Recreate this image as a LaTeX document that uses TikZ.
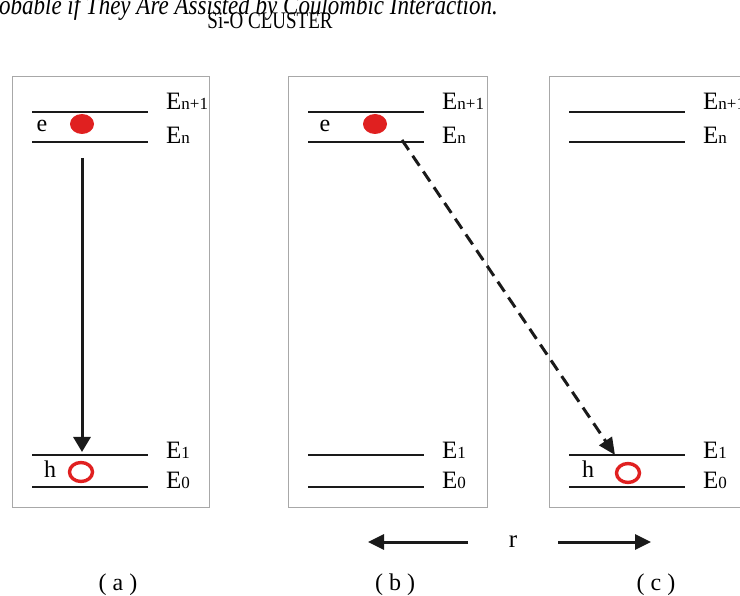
\documentclass[tikz,border=0pt]{standalone}
\usepackage{fontspec}
\setmainfont{Liberation Serif}
\usetikzlibrary{arrows.meta, positioning, shapes.geometric}
\definecolor{boxline}{HTML}{A8A8A8}
\definecolor{carrier}{HTML}{E02020}
\definecolor{lvlline}{HTML}{1A1A1A}
\newcommand{\Elev}[1]{E{\fontsize{17}{17}\selectfont #1}}
\tikzset{
  panel/.style  = {draw=boxline, line width=1pt},
  lvl/.style    = {draw=lvlline, line width=2pt},
  elbl/.style   = {anchor=base west, inner sep=0pt, font=\fontsize{25}{27}\selectfont},
  clbl/.style   = {anchor=base, inner sep=0pt, font=\fontsize{24}{26}\selectfont},
  elec/.style   = {ellipse, fill=carrier, minimum width=24pt, minimum height=20pt, inner sep=0pt},
  hole/.style   = {ellipse, draw=carrier, line width=3.4pt, minimum width=23pt,
                   minimum height=19pt, inner sep=0pt},
  drop/.style   = {-{Triangle[length=15pt, width=17pt]}, line width=3pt, draw=lvlline},
  hop/.style    = {-{Triangle[length=17pt, width=15pt]}, line width=3pt, draw=lvlline,
                   dash pattern=on 12pt off 7pt},
  spread/.style = {-{Triangle[length=16pt, width=15pt]}, line width=3pt, draw=lvlline},
}
\begin{document}
\begin{tikzpicture}[x=1pt, y=-1pt]
\useasboundingbox (0,0) rectangle (740,596);
\clip (0,0) rectangle (740,596);
\node[anchor=base east, inner sep=0pt, font=\fontsize{23}{25}\selectfont\itshape] (head)
  at (498,15) {\scalebox{1}[1.2]{Probable if They Are Assisted by Coulombic Interaction.}};
\node[anchor=base, inner sep=0pt, font=\fontsize{19}{21}\selectfont] (cluster)
  at (270,29) {\scalebox{1}[1.25]{Si-O CLUSTER}};
\foreach \p/\x/\w/\c in {a/12/197/118, b/288/199/395, c/549/193/656}{
  \draw[panel] (\x,77) rectangle ++(\w,430);
  \foreach \k/\y/\b/\s in {3/112/110/{n+1}, 2/142/144/n, 1/455/458/1, 0/487/488/0}{
    \draw[lvl] (\x+20,\y) -- (\x+136,\y);
    \node[elbl] (E\p\k) at (\x+154,\b) {\Elev{\s}};
  }
  \node[clbl] (cap\p) at (\c,590) {( \p\ )};
}
\node[clbl] (ea) at (42,132) {e};
\node[elec] (dota) at (82,124) {};
\node[clbl] (ha) at (50,477) {h};
\node[hole] (ringa) at (81,472) {};
\node[clbl] (eb) at (325,132) {e};
\node[elec] (dotb) at (375,124) {};
\node[clbl] (hc) at (588,478) {h};
\node[hole] (ringc) at (628,473) {};
\coordinate (atop) at (82,158);
\coordinate (abot) at (82,452);
\draw[drop] (atop) -- (abot);
\coordinate (bstart) at (402,140);
\coordinate (cend) at (615,455);
\draw[hop] (bstart) -- (cend);
\node[clbl, font=\fontsize{25}{27}\selectfont] (r) at (513,547) {r};
\coordinate (rls) at (468,542);
\coordinate (rle) at (368,542);
\coordinate (rrs) at (558,542);
\coordinate (rre) at (651,542);
\draw[spread] (rls) -- (rle);
\draw[spread] (rrs) -- (rre);
\end{tikzpicture}
\end{document}
